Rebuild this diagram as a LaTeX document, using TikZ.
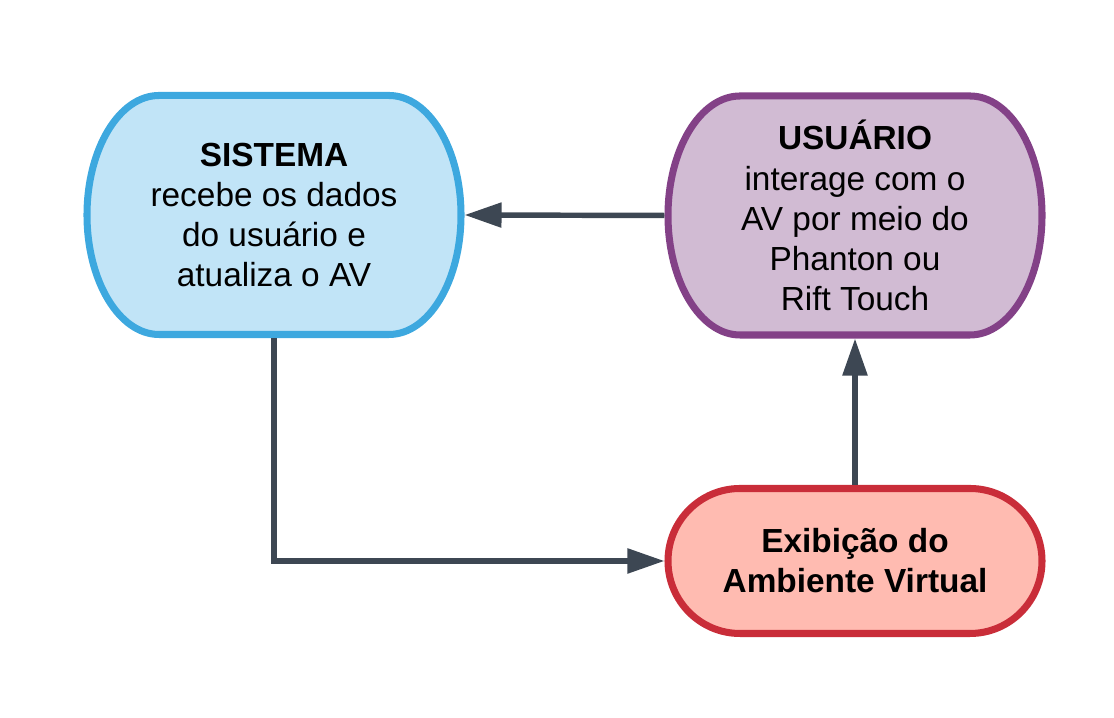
\documentclass[tikz,border=0pt]{standalone}
\usepackage{fontspec}
\setmainfont{Liberation Sans}
\usepackage{xcolor}
\usepackage{tikz}
\usetikzlibrary{arrows.meta,backgrounds}

\definecolor{sisfill}{HTML}{C1E4F7}
\definecolor{sisdraw}{HTML}{3DA8DF}
\definecolor{usufill}{HTML}{D1BBD3}
\definecolor{usudraw}{HTML}{834187}
\definecolor{exifill}{HTML}{FFBBB1}
\definecolor{exidraw}{HTML}{C92D39}
\definecolor{linecol}{HTML}{3D4753}

\tikzset{
  box/.style={minimum width=7.48cm, inner sep=0pt, outer sep=0pt, align=center,
    font=\fontsize{19}{22.8}\selectfont},
  conn/.style={draw=linecol, line width=3.1pt, shorten <=2pt, shorten >=2pt,
    -{Triangle[length=7.4mm,width=4.8mm]}},
}

% name, border, fill, half height
\newcommand{\pill}[4]{%
  \draw[line width=4pt, draw=#2, fill=#3]
    ([xshift=1.44cm]#1.north west) -- ([xshift=-1.44cm]#1.north east)
    arc[start angle=90, end angle=-90, x radius=1.44cm, y radius=#4]
    -- ([xshift=1.44cm]#1.south west)
    arc[start angle=270, end angle=90, x radius=1.44cm, y radius=#4] -- cycle;}

\begin{document}
\begin{tikzpicture}
	\useasboundingbox (0,0) rectangle (22.28,14.36);

	\node[box, minimum height=4.78cm] (sis) at (5.48,10.06)
		{\textbf{SISTEMA}\\recebe os dados\\do usuário e\\atualiza o AV};
	\node[box, minimum height=4.78cm] (usu) at (17.1,10.05)
		{\textbf{USUÁRIO}\\interage com o\\AV por meio do\\Phanton ou\\Rift Touch};
	\node[box, minimum height=2.9cm, font=\fontsize{19}{22.8}\selectfont\bfseries] (exi) at (17.1,3.14)
		{Exibição do\\Ambiente Virtual};

	\begin{scope}[on background layer]
		\pill{sis}{sisdraw}{sisfill}{2.39cm}
		\pill{usu}{usudraw}{usufill}{2.39cm}
		\pill{exi}{exidraw}{exifill}{1.45cm}
	\end{scope}

	\draw[conn] (usu.west) -- (sis.east);
	\draw[conn] (sis.south) |- (exi.west);
	\draw[conn] (exi.north) -- (usu.south);
\end{tikzpicture}
\end{document}
